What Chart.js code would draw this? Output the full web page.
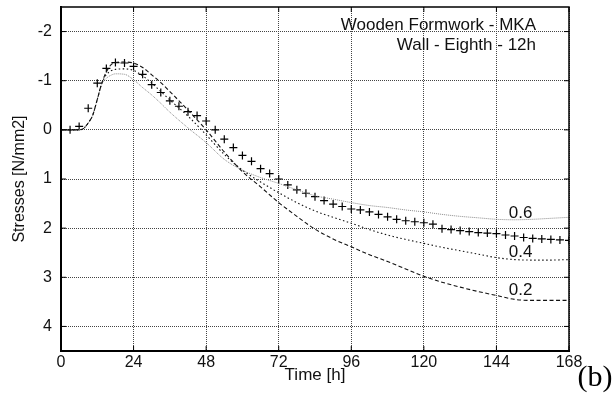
<!DOCTYPE html>
<html>
<head>
<meta charset="utf-8">
<title>Stresses - Wooden Formwork</title>
<script src="https://cdn.jsdelivr.net/npm/chart.js@4/dist/chart.umd.min.js"></script>
<style>
  html, body { margin: 0; padding: 0; background: #fff; }
  #wrap { position: relative; width: 616px; height: 408px; }
</style>
</head>
<body>
<div id="wrap"><canvas id="stress-chart"></canvas></div>
<script>
/*==== data ====*/
// time [h] for the three computed curves
const time_h = [0, 3, 6, 7.5, 9, 10.5, 12, 13.5, 15, 16.5, 18, 21, 24, 27, 30, 33, 36, 42, 48, 54, 60, 66, 72,
    78, 84, 90, 96, 102, 108, 114, 120, 126, 132, 138, 144, 150, 156, 162, 168];

// stresses [N/mm2], one curve per factor
const stress_02 = [0, 0, 0, -0.03, -0.14, -0.3, -0.62, -0.95, -1.18, -1.32, -1.37, -1.38, -1.36, -1.27, -1.12, -0.96, -0.78, -0.4, 0.0, 0.45, 0.85, 1.16, 1.48,
    1.76, 2.02, 2.22, 2.38, 2.54, 2.68, 2.83, 2.98, 3.1, 3.2, 3.29, 3.37, 3.45, 3.47, 3.47, 3.47];
const stress_04 = [0, 0, 0, -0.03, -0.14, -0.3, -0.62, -0.95, -1.12, -1.2, -1.23, -1.24, -1.21, -1.1, -0.95, -0.78, -0.61, -0.28, 0.1, 0.5, 0.82, 1.06, 1.28,
    1.48, 1.65, 1.78, 1.9, 2.03, 2.14, 2.23, 2.31, 2.39, 2.46, 2.53, 2.6, 2.64, 2.65, 2.65, 2.64];
const stress_06 = [0, 0, 0, -0.03, -0.14, -0.3, -0.62, -0.93, -1.05, -1.11, -1.14, -1.13, -1.02, -0.86, -0.71, -0.54, -0.36, -0.04, 0.26, 0.6, 0.82, 0.97, 1.09,
    1.22, 1.34, 1.41, 1.48, 1.54, 1.58, 1.63, 1.67, 1.72, 1.76, 1.79, 1.82, 1.83, 1.82, 1.8, 1.78];
const curve_labels = ['0.2', '0.4', '0.6'];
const label_pos = [[152, 3.27], [152, 2.5], [152, 1.7]];

// measured values (+)
const time_meas = [3, 6, 9, 12, 15, 18, 21, 24, 27, 30, 33, 36, 39, 42, 45, 48, 51, 54, 57, 60, 63, 66, 69, 72, 75, 78, 81, 84,
    87, 90, 93, 96, 99, 102, 105, 108, 111, 114, 117, 120, 123, 126, 129, 132, 135, 138, 141, 144, 147, 150, 153, 156, 159, 162, 165, 168];
const stress_meas = [0.0, -0.07, -0.44, -0.95, -1.25, -1.37, -1.36, -1.29, -1.13, -0.92, -0.76, -0.59, -0.48, -0.37, -0.29, -0.18, 0.0, 0.19, 0.36, 0.52, 0.64, 0.79, 0.89, 1.0, 1.12, 1.22, 1.29, 1.36,
    1.44, 1.51, 1.56, 1.61, 1.63, 1.67, 1.72, 1.77, 1.82, 1.85, 1.87, 1.89, 1.92, 2.01, 2.03, 2.05, 2.07, 2.09, 2.1, 2.11, 2.14, 2.16, 2.19, 2.21, 2.22, 2.23, 2.24, 2.25];

const x_ticks = [0, 24, 48, 72, 96, 120, 144, 168];
const y_ticks = [-2, -1, 0, 1, 2, 3, 4];
const title_lines = ['Wooden Formwork - MKA', 'Wall - Eighth - 12h'];

function toPoints(xs, ys) {
    return xs.map(function(x, i){ return {x: x, y: ys[i]}; });
}

/*==== plugins ====*/
// closed frame with small inward ticks
const framePlugin = {
    id: 'frame',
    afterDraw: function(chart) {
        const ctx = chart.ctx, a = chart.chartArea;
        const xs = chart.scales.x, ys = chart.scales.y;
        ctx.save();
        ctx.strokeStyle = '#000';
        ctx.lineWidth = 1.5;
        ctx.strokeRect(a.left, a.top, a.right - a.left, a.bottom - a.top);
        ctx.lineWidth = 1;
        ctx.beginPath();
        x_ticks.forEach(function(v){
            const px = xs.getPixelForValue(v);
            ctx.moveTo(px, a.top); ctx.lineTo(px, a.top + 5);
            ctx.moveTo(px, a.bottom); ctx.lineTo(px, a.bottom - 5);
        });
        y_ticks.forEach(function(v){
            const py = ys.getPixelForValue(v);
            ctx.moveTo(a.right, py); ctx.lineTo(a.right - 5, py);
            ctx.moveTo(a.left, py); ctx.lineTo(a.left + 5, py);
        });
        ctx.stroke();
        ctx.restore();
    }
};

// header text, curve labels and the panel letter
const textPlugin = {
    id: 'texts',
    afterDraw: function(chart) {
        const ctx = chart.ctx, a = chart.chartArea;
        const xs = chart.scales.x, ys = chart.scales.y;
        ctx.save();
        ctx.fillStyle = '#111';
        ctx.font = '17px "Liberation Sans", Arial, sans-serif';
        ctx.textAlign = 'right';
        ctx.textBaseline = 'alphabetic';
        ctx.fillText(title_lines[0], a.right - 33, 30);
        ctx.fillText(title_lines[1], a.right - 33, 50);
        ctx.textAlign = 'center';
        ctx.textBaseline = 'middle';
        curve_labels.forEach(function(t, i){
            ctx.fillText(t, xs.getPixelForValue(label_pos[i][0]), ys.getPixelForValue(label_pos[i][1]));
        });
        ctx.font = '30px "Liberation Serif", "DejaVu Serif", serif';
        ctx.fillStyle = '#000';
        ctx.fillText('(b)', 595, 378);
        ctx.restore();
    }
};

/*==== config ====*/
const data_stress = {
    datasets: [
        {
            label: curve_labels[0],
            data: toPoints(time_h, stress_02),
            borderColor: '#111',
            borderWidth: 1.1,
            borderDash: [4, 2.5],
            pointRadius: 0,
            cubicInterpolationMode: 'monotone'
        },
        {
            label: curve_labels[1],
            data: toPoints(time_h, stress_04),
            borderColor: '#111',
            borderWidth: 1.1,
            borderDash: [1.5, 2.5],
            pointRadius: 0,
            cubicInterpolationMode: 'monotone'
        },
        {
            label: curve_labels[2],
            data: toPoints(time_h, stress_06),
            borderColor: '#888',
            borderWidth: 1,
            borderDash: [1, 1],
            pointRadius: 0,
            cubicInterpolationMode: 'monotone'
        },
        {
            label: 'measured',
            data: toPoints(time_meas, stress_meas),
            showLine: false,
            pointStyle: 'cross',
            pointRadius: 4,
            borderColor: '#000',
            borderWidth: 1.2
        }
    ]
};

const config_stress = {
    type: 'line',
    data: data_stress,
    options: {
        responsive: false,
        animation: false,
        layout: { padding: { left: 10, top: 7, right: 47, bottom: 22 } },
        plugins: {
            legend: { display: false },
            tooltip: { enabled: false }
        },
        scales: {
            x: {
                type: 'linear',
                min: 0,
                max: 168,
                afterBuildTicks: function(axis){ axis.ticks = x_ticks.map(function(v){ return {value: v}; }); },
                afterFit: function(axis){ axis.height = 35; axis.paddingLeft = 0; axis.paddingRight = 0; },
                ticks: { color: '#111', font: { family: 'Liberation Sans', size: 16 }, padding: 2 },
                grid: { color: '#444', lineWidth: 1, drawTicks: false },
                border: { color: '#000', width: 2, dash: [1, 1] },
                title: {
                    display: true,
                    text: 'Time [h]',
                    color: '#111',
                    font: { family: 'Liberation Sans', size: 17 },
                    padding: { top: 0, bottom: 0 }
                }
            },
            y: {
                type: 'linear',
                reverse: true,
                min: -2.5,
                max: 4.5,
                afterBuildTicks: function(axis){ axis.ticks = y_ticks.map(function(v){ return {value: v}; }); },
                afterFit: function(axis){ axis.width = 51; axis.paddingTop = 0; axis.paddingBottom = 0; },
                ticks: { color: '#111', font: { family: 'Liberation Sans', size: 16 }, padding: 9 },
                grid: { color: '#444', lineWidth: 1, drawTicks: false },
                border: { color: '#000', width: 2, dash: [1, 1] },
                title: {
                    display: true,
                    text: 'Stresses [N/mm2]',
                    color: '#111',
                    font: { family: 'Liberation Sans', size: 16 },
                    padding: { top: 0, bottom: 0 }
                }
            }
        }
    },
    plugins: [framePlugin, textPlugin]
};

/*===== render graphic =====*/
const canvas = document.getElementById('stress-chart');
canvas.width = 616;
canvas.height = 408;
var stressChart = new Chart(canvas, config_stress);
</script>
</body>
</html>
